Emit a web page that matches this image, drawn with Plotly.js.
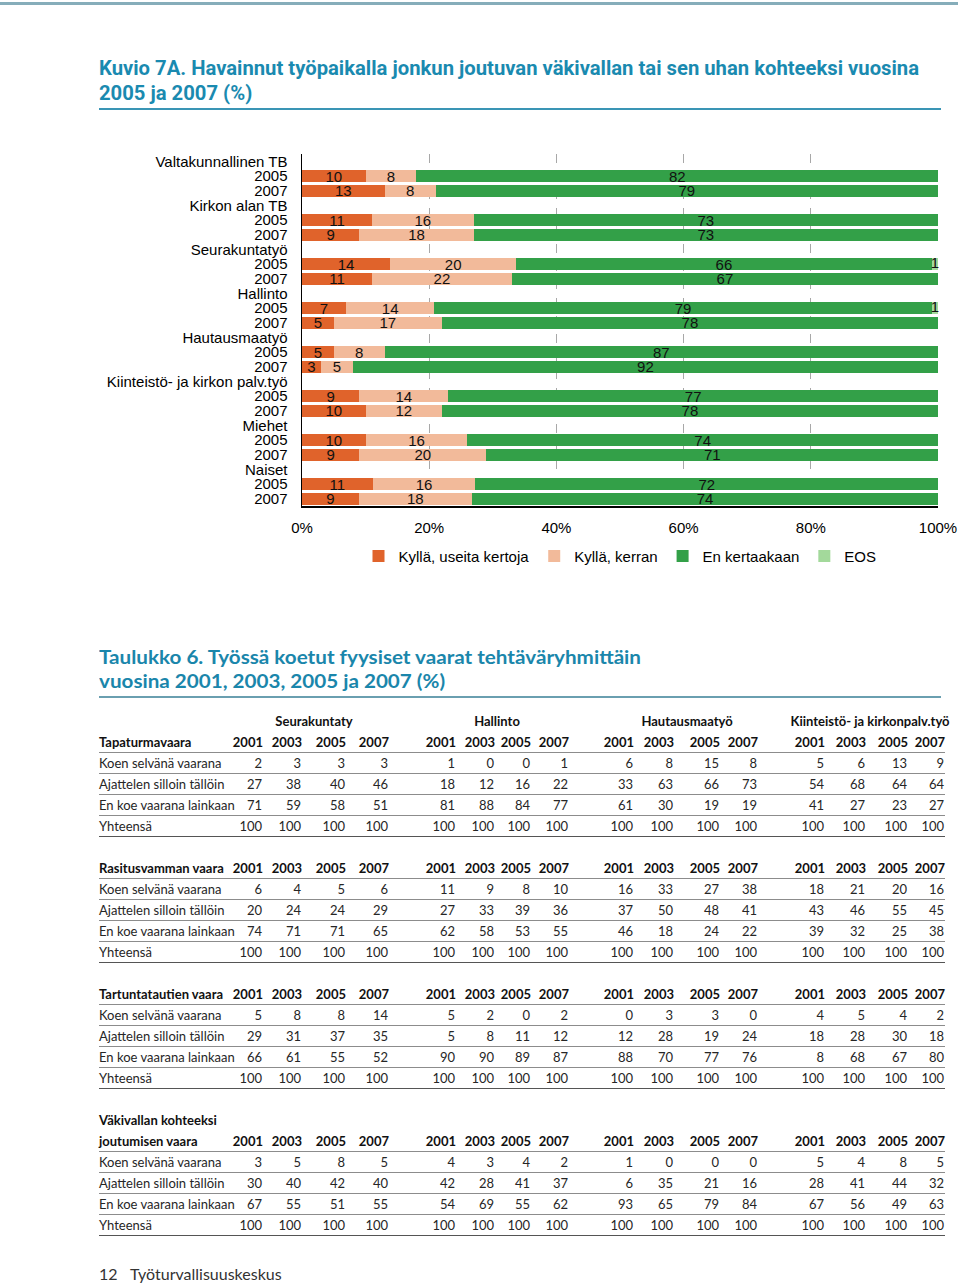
<!DOCTYPE html>
<html><head><meta charset="utf-8">
<script src="https://cdn.plot.ly/plotly-3.0.1.min.js"></script>
<style>
html,body{margin:0;padding:0;background:#fff;}
#page{position:relative;width:960px;height:1283px;overflow:hidden;font-family:Lato,"Liberation Sans",sans-serif;color:#222;}
.abs{position:absolute;white-space:nowrap;}
.ttl{font-family:"Liberation Sans Narrow","Roboto","Liberation Sans",sans-serif;font-weight:bold;font-size:21px;line-height:23px;color:#1a8ab0;transform-origin:0 50%;}
.ttl2{font-family:Lato,"Open Sans",sans-serif;font-weight:bold;font-size:19.5px;line-height:22px;color:#1a86ab;transform-origin:0 50%;}
.cell{font-size:13px;line-height:18px;height:18px;color:#262626;}
.b{font-weight:bold;color:#111;}
</style></head><body><div id="page">
<div class="abs" style="left:0;top:2px;width:958px;height:3px;background:#86adba;"></div>
<div class="abs ttl" id="t1" style="left:99px;top:57px;">Kuvio 7A. Havainnut työpaikalla jonkun joutuvan väkivallan tai sen uhan kohteeksi vuosina</div>
<div class="abs ttl" id="t1b" style="left:99px;top:82px;">2005 ja 2007 (%)</div>
<div class="abs" style="left:99px;top:108px;width:842px;height:2px;background:#3a95b5;"></div>
<div class="abs" id="chart" style="left:0;top:140px;width:960px;height:440px;"></div>
<div class="abs ttl2" id="t2" style="left:99px;top:646px;">Taulukko 6. Työssä koetut fyysiset vaarat tehtäväryhmittäin</div>
<div class="abs ttl2" id="t2b" style="left:99px;top:670px;">vuosina 2001, 2003, 2005 ja 2007 (%)</div>
<div class="abs" style="left:99px;top:696px;width:842px;height:2px;background:#6a9fb0;"></div>
<div class="abs" style="left:99px;top:1264px;font-size:16px;line-height:20px;color:#333;">12</div>
<div class="abs" style="left:130px;top:1264px;font-size:16px;line-height:20px;color:#333;">Työturvallisuuskeskus</div>
</div>
<script>
// ---------- Chart data ----------
const rowLabels = ["Valtakunnallinen TB","2005","2007","Kirkon alan TB","2005","2007","Seurakuntatyö","2005","2007","Hallinto","2005","2007","Hautausmaatyö","2005","2007","Kiinteistö- ja kirkon palv.työ","2005","2007","Miehet","2005","2007","Naiset","2005","2007"];
const seriesNames = ["Kyllä, useita kertoja","Kyllä, kerran","En kertaakaan","EOS"];
const useitaKertoja = [null,10,13,null,11,9,null,14,11,null,7,5,null,5,3,null,9,10,null,10,9,null,11,9];
const kerran        = [null,8,8,null,16,18,null,20,22,null,14,17,null,8,5,null,14,12,null,16,20,null,16,18];
const enKertaakaan  = [null,82,79,null,73,73,null,66,67,null,79,78,null,87,92,null,77,78,null,74,71,null,72,74];
const eos           = [null,null,null,null,null,null,null,1,null,null,1,null,null,null,null,null,null,null,null,null,null,null,null,null];
const xTickVals = [0,20,40,60,80,100];
const xTickText = ["0%","20%","40%","60%","80%","100%"];

// ---------- Table data ----------
const groupNames = ["Seurakuntaty","Hallinto","Hautausmaatyö","Kiinteistö- ja kirkonpalv.työ"];
const years = ["2001","2003","2005","2007"];
const rowNames = ["Koen selvänä vaarana","Ajattelen silloin tällöin","En koe vaarana lainkaan","Yhteensä"];
const tapaturmavaara = [
  [2,3,3,3, 1,0,0,1, 6,8,15,8, 5,6,13,9],
  [27,38,40,46, 18,12,16,22, 33,63,66,73, 54,68,64,64],
  [71,59,58,51, 81,88,84,77, 61,30,19,19, 41,27,23,27],
  [100,100,100,100, 100,100,100,100, 100,100,100,100, 100,100,100,100]];
const rasitusvammanVaara = [
  [6,4,5,6, 11,9,8,10, 16,33,27,38, 18,21,20,16],
  [20,24,24,29, 27,33,39,36, 37,50,48,41, 43,46,55,45],
  [74,71,71,65, 62,58,53,55, 46,18,24,22, 39,32,25,38],
  [100,100,100,100, 100,100,100,100, 100,100,100,100, 100,100,100,100]];
const tartuntatautienVaara = [
  [5,8,8,14, 5,2,0,2, 0,3,3,0, 4,5,4,2],
  [29,31,37,35, 5,8,11,12, 12,28,19,24, 18,28,30,18],
  [66,61,55,52, 90,90,89,87, 88,70,77,76, 8,68,67,80],
  [100,100,100,100, 100,100,100,100, 100,100,100,100, 100,100,100,100]];
const vakivallanVaara = [
  [3,5,8,5, 4,3,4,2, 1,0,0,0, 5,4,8,5],
  [30,40,42,40, 42,28,41,37, 6,35,21,16, 28,41,44,32],
  [67,55,51,55, 54,69,55,62, 93,65,79,84, 67,56,49,63],
  [100,100,100,100, 100,100,100,100, 100,100,100,100, 100,100,100,100]];
const sectionTitles = [["Tapaturmavaara"],["Rasitusvamman  vaara"],["Tartuntatautien vaara"],["Väkivallan kohteeksi","joutumisen vaara"]];

// ---------- Chart ----------
const colors = ["#e0632b","#f2ba9a","#33a048","#a3d99b"];
const series = [useitaKertoja,kerran,enKertaakaan,eos];
const idx = rowLabels.map((_,i)=>i);
const totals = idx.map(i=>series.reduce((s,a)=>s+(a[i]||0),0));
const labelFont = {family:'"Liberation Sans", Arial, sans-serif', size:15, color:'#111'};
const traces = series.map((arr,k)=>({
  type:'bar', orientation:'h', name:seriesNames[k],
  y: idx,
  x: arr.map((v,i)=> v==null? null : v/totals[i]*100),
  text: k===3 ? arr.map(()=> '') : arr.map(v=> v==null? '' : String(v)),
  textposition:'inside', insidetextanchor:'middle', constraintext:'none',
  textangle:0,
  textfont:labelFont, insidetextfont:labelFont,
  marker:{color:colors[k], line:{width:0}},
  hoverinfo:'none', cliponaxis:false
}));
// EOS labels: centred on the thin EOS segments via the data scale
const eosRows = idx.filter(i=>eos[i]!=null);
traces.push({
  type:'scatter', mode:'text', showlegend:false, hoverinfo:'none', cliponaxis:false,
  y: eosRows,
  x: eosRows.map(i=>{ const before=(useitaKertoja[i]||0)+(kerran[i]||0)+(enKertaakaan[i]||0); return (before+eos[i]/2)/totals[i]*100; }),
  text: eosRows.map(i=>String(eos[i])),
  textposition:'middle center', textfont:labelFont
});
const layout = {
  width:960, height:440, barmode:'stack', bargap:0.16,
  margin:{l:302, r:22, t:14, b:74, pad:0},
  paper_bgcolor:'rgba(0,0,0,0)', plot_bgcolor:'rgba(0,0,0,0)',
  font:{family:'"Liberation Sans", Arial, sans-serif', size:15, color:'#000'},
  showlegend:true,
  xaxis:{range:[0,100], tickvals:xTickVals, ticktext:xTickText, showgrid:true, gridcolor:'#a8a8a8', griddash:'dash', gridwidth:1, automargin:false,
         showline:true, linecolor:'#000', linewidth:1.5, zeroline:false, ticks:'outside', ticklen:7, tickcolor:'rgba(0,0,0,0)', tickfont:{size:15}, fixedrange:true},
  yaxis:{range:[23.5,-0.5], tickvals:idx, ticktext:rowLabels, showgrid:false, showline:true, linecolor:'#000', linewidth:1.5, automargin:false,
         zeroline:false, ticks:'outside', ticklen:10, tickcolor:'rgba(0,0,0,0)', tickfont:{size:15}, fixedrange:true},
  legend:{orientation:'h', x:0.5, xanchor:'center', xref:'paper', yref:'container', y:0.054, yanchor:'middle', font:{size:15}, traceorder:'normal', itemwidth:30, bgcolor:'rgba(0,0,0,0)'}
};
Plotly.newPlot('chart', traces, layout, {staticPlot:true, displayModeBar:false});

// ---------- Table ----------
const page = document.getElementById('page');
const colRight = [263,302,346,389, 456,495,531,569, 634,674,720,758, 825,866,908,945];
const groupCenters = [314,497,687,870];
const sectionYearY = [742,868,994,1141];
const sectionData = [tapaturmavaara,rasitusvammanVaara,tartuntatautienVaara,vakivallanVaara];
function place(text,x,y,align,cls){
  const d=document.createElement('div');
  d.className='abs cell '+(cls||'');
  d.textContent=text;
  d.style.top=(y-9)+'px';
  if(align==='right'){d.style.right=(960-x)+'px';}
  else if(align==='center'){d.style.left=x+'px';d.style.transform='translateX(-50%)';}
  else {d.style.left=x+'px';}
  page.appendChild(d);
}
function hline(y,w,c){
  const d=document.createElement('div');
  d.className='abs';
  d.style.left='99px'; d.style.width='846px'; d.style.top=y+'px'; d.style.height=w+'px'; d.style.background=c;
  page.appendChild(d);
}
groupNames.forEach((g,i)=>place(g,groupCenters[i],721,'center','b'));
sectionData.forEach((data,s)=>{
  const Y=sectionYearY[s];
  const titles=sectionTitles[s];
  titles.forEach((t,j)=>place(t,99,Y-21*(titles.length-1-j),'left','b'));
  for(let c=0;c<16;c++) place(years[c%4],colRight[c],Y,'right','b');
  data.forEach((row,r)=>{
    const ry=Y+21*(r+1);
    place(rowNames[r],99,ry,'left','');
    row.forEach((v,c)=>place(String(v),colRight[c]-1,ry,'right',''));
  });
  for(let k=0;k<=4;k++){
    if(k<4) hline(Y+10+21*k,1,'#8c8c8c'); else hline(Y+10+21*k-0.5,1.5,'#555');
  }
});

// fit title widths
function fit(id,id2,target){
  const e=document.getElementById(id);
  const w=e.getBoundingClientRect().width;
  const f=target/w;
  e.style.transform='scaleX('+f+')';
  document.getElementById(id2).style.transform='scaleX('+f+')';
}
fit('t1','t1b',820);
fit('t2','t2b',542);
</script>
</body></html>
